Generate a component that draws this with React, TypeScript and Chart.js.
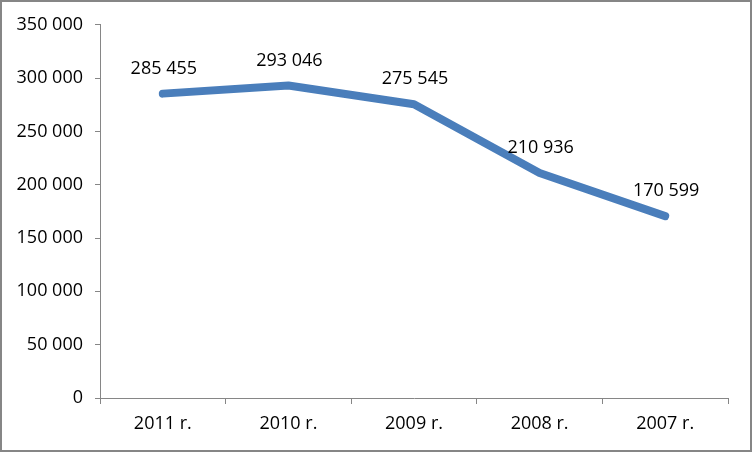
import { Chart, registerables } from 'chart.js';
import { useEffect, useRef } from 'react';

Chart.register(...registerables);

const years = ['2011 r.', '2010 r.', '2009 r.', '2008 r.', '2007 r.'];
const values = [285455, 293046, 275545, 210936, 170599];

const fmt = (v: number) => String(v).replace(/\B(?=(\d{3})+(?!\d))/g, ' ');

// draws the value above each point, like Excel's data labels
const pointLabels = {
   id: 'pointLabels',
   afterDatasetsDraw(chart: Chart) {
      const ctx = chart.ctx;
      const meta = chart.getDatasetMeta(0);
      ctx.save();
      ctx.font = '18px "Open Sans"';
      ctx.fillStyle = '#000';
      ctx.textAlign = 'center';
      ctx.textBaseline = 'middle';
      meta.data.forEach((pt, i) => {
         ctx.fillText(fmt(values[i]), pt.x + 1, pt.y - 25);
      });
      ctx.restore();
   },
};

export default function App() {
   const chartRef = useRef<HTMLCanvasElement>(null);
   const chartInstance = useRef<Chart | null>(null);

   useEffect(() => {
      document.body.style.margin = '0';
      if (!chartRef.current) return;
      if (chartInstance.current) chartInstance.current.destroy();

      const axisColor = '#868686';

      chartInstance.current = new Chart(chartRef.current, {
         type: 'line',
         data: {
            labels: years,
            datasets: [
               {
                  data: values,
                  borderColor: '#4A7EBB',
                  borderWidth: 8,
                  borderCapStyle: 'round',
                  borderJoinStyle: 'round',
                  pointRadius: 0,
                  tension: 0,
               },
            ],
         },
         options: {
            animation: false,
            responsive: false,
            layout: { padding: { top: 22, right: 22, left: 0, bottom: 0 } },
            plugins: {
               legend: { display: false },
               tooltip: { enabled: false },
            },
            scales: {
               x: {
                  offset: true,
                  grid: {
                     offset: true,
                     drawOnChartArea: false,
                     drawTicks: true,
                     tickLength: 6,
                     color: axisColor,
                  },
                  border: { display: true, color: axisColor },
                  ticks: {
                     color: '#000',
                     padding: 9,
                     maxRotation: 0,
                     font: { family: '"Open Sans"', size: 18 },
                  },
                  afterFit: (s: any) => {
                     s.height = 52;
                  },
               },
               y: {
                  min: 0,
                  max: 350000,
                  ticks: {
                     stepSize: 50000,
                     color: '#000',
                     padding: 12,
                     font: { family: '"Open Sans"', size: 18 },
                     callback: (v: any) => fmt(Number(v)),
                  },
                  grid: {
                     drawOnChartArea: false,
                     drawTicks: true,
                     tickLength: 5,
                     color: axisColor,
                  },
                  border: { display: true, color: axisColor },
                  afterFit: (s: any) => {
                     s.width = 98;
                  },
               },
            },
         },
         plugins: [pointLabels],
      });

      return () => {
         if (chartInstance.current) {
            chartInstance.current.destroy();
            chartInstance.current = null;
         }
      };
   }, []);

   return (
      <div
         style={{
            width: 752,
            height: 452,
            boxSizing: 'border-box',
            border: '2px solid #868686',
            background: '#fff',
         }}
      >
         <canvas ref={chartRef} width={748} height={448} style={{ display: 'block' }} />
      </div>
   );
}
